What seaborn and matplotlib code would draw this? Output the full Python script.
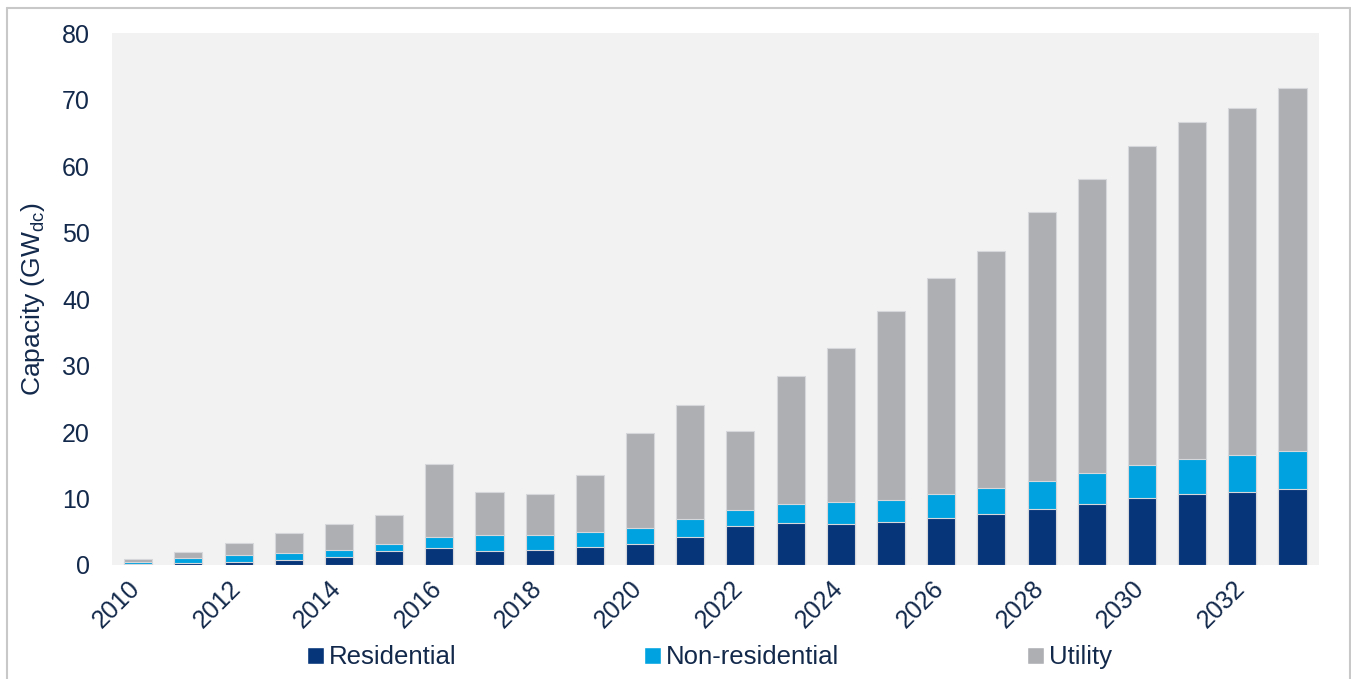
import numpy as np
import matplotlib
matplotlib.use("Agg")
import matplotlib.pyplot as plt
from matplotlib.patches import Patch
from matplotlib.lines import Line2D
from matplotlib.transforms import ScaledTranslation
import seaborn as sns

# %% Data (GWdc)
years = list(range(2010, 2034))
residential = [0.2, 0.25, 0.5, 0.7, 1.25, 2.1, 2.55, 2.1, 2.3, 2.75, 3.2, 4.2,
               5.9, 6.35, 6.1, 6.5, 7.0, 7.7, 8.4, 9.1, 10.0, 10.6, 11.0, 11.5]
non_residential = [0.3, 0.85, 1.0, 1.1, 1.0, 1.05, 1.65, 2.4, 2.2, 2.25, 2.4, 2.7,
                   2.4, 2.75, 3.3, 3.3, 3.6, 3.9, 4.3, 4.8, 5.1, 5.4, 5.6, 5.7]
utility = [0.4, 0.8, 1.8, 3.0, 3.95, 4.3, 11.0, 6.5, 6.15, 8.5, 14.3, 17.1,
           11.9, 19.3, 23.3, 28.4, 32.5, 35.6, 40.4, 44.2, 47.95, 50.7, 52.2, 54.5]
segments = ["Residential", "Non-residential", "Utility"]

C_RES, C_NON, C_UTIL = "#06357A", "#00A3E0", "#AEAFB3"
TXT = "#13294B"

sns.set_theme(style="white")
plt.rcParams["font.family"] = ["Liberation Sans", "DejaVu Sans"]
plt.rcParams["mathtext.fontset"] = "custom"
plt.rcParams["mathtext.rm"] = "Liberation Sans"

# %% Stacked bars (cumulative overlay)
res = np.array(residential)
non = np.array(non_residential)
utl = np.array(utility)

fig, ax = plt.subplots(figsize=(13.51, 6.79), dpi=100)
fig.subplots_adjust(left=0.083, right=0.976, top=0.951, bottom=0.168)
ax.set_facecolor("#F2F2F2")

bar_kw = dict(width=0.56, edgecolor="#D6D7DA", linewidth=0.8, ax=ax)
sns.barplot(x=years, y=res + non + utl, color=C_UTIL, saturation=1, **bar_kw)
sns.barplot(x=years, y=res + non, color=C_NON, saturation=1, **bar_kw)
sns.barplot(x=years, y=res, color=C_RES, saturation=1, **bar_kw)

ax.set_xlim(-0.52, len(years) - 0.48)
ax.set_ylim(0, 80)
ax.set_yticks(range(0, 81, 10))
ax.set_xticks(range(0, len(years), 2))
ax.set_xticklabels([str(y) for y in years[::2]], rotation=45, ha="right",
                   rotation_mode="anchor")
ax.tick_params(axis="both", length=0, labelsize=18, labelcolor=TXT)
ax.tick_params(axis="y", pad=16)
ax.tick_params(axis="x", pad=8)
shift = ScaledTranslation(-0.1, 0, fig.dpi_scale_trans)
for lbl in ax.get_xticklabels():
    lbl.set_transform(lbl.get_transform() + shift)
ax.set_ylabel("Capacity (GW$_{\\rm dc}$)", fontsize=19, color=TXT, labelpad=11)
ax.set_xlabel("")
sns.despine(ax=ax, left=True, bottom=True)

handles = [Patch(facecolor=c) for c in (C_RES, C_NON, C_UTIL)]
fig.legend(handles, segments, loc="center", bbox_to_anchor=(0.525, 0.032), ncol=3,
           frameon=False, fontsize=18.5, labelcolor=TXT, handlelength=0.66,
           handleheight=0.66, handletextpad=0.2, columnspacing=7.3)

# light frame around the slide area
for xs, ys in [((0.005, 0.005), (0, 0.988)), ((0.005, 0.999), (0.988, 0.988)),
               ((0.999, 0.999), (0, 0.988))]:
    fig.add_artist(Line2D(xs, ys, color="#C8C8C8", linewidth=1.5,
                          transform=fig.transFigure))

plt.savefig("out.png", dpi=100)
